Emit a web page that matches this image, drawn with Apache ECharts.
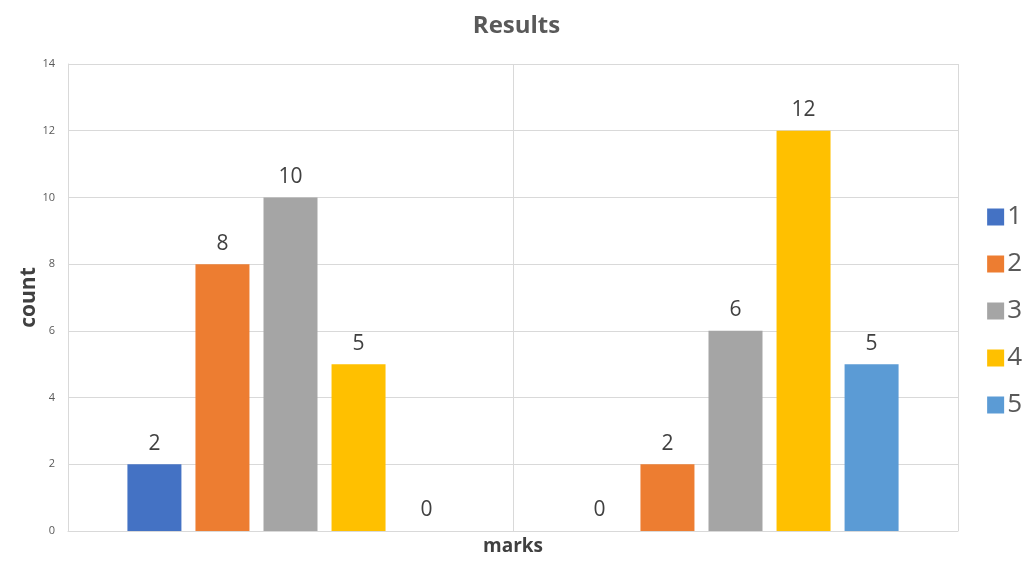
<!DOCTYPE html>
<html>
<head>
<meta charset="utf-8">
<script src="https://cdn.jsdelivr.net/npm/echarts@6/dist/echarts.min.js"></script>
<style>
  html, body { margin: 0; padding: 0; background: #fff; }
  #chart { width: 1033px; height: 561px; }
</style>
</head>
<body>
<div id="chart"></div>
<script>
// 两组分类（图中无标签）
const categories = ['', '']
// 各系列名称
const seriesNames = ['1', '2', '3', '4', '5']
// 各系列数值（左组, 右组）
const values1 = [2, 0]
const values2 = [8, 2]
const values3 = [10, 6]
const values4 = [5, 12]
const values5 = [0, 5]
const yTicks = [0, 2, 4, 6, 8, 10, 12, 14]

const colors = ['#4472C4', '#ED7D31', '#A5A5A5', '#FFC000', '#5B9BD5']
const allValues = [values1, values2, values3, values4, values5]

const chart = echarts.init(document.getElementById('chart'))

const option = {
  backgroundColor: '#fff',
  color: colors,
  textStyle: { fontFamily: '"Open Sans", "DejaVu Sans", sans-serif' },
  title: {
    text: 'Results',
    left: 'center',
    top: 9,
    textStyle: { fontSize: 24, fontWeight: 'bold', color: '#595959' }
  },
  legend: {
    orient: 'vertical',
    right: 6,
    top: 199,
    itemWidth: 17,
    itemHeight: 17,
    itemGap: 21,
    icon: 'rect',
    textStyle: { fontSize: 26, color: '#595959', padding: [0, 0, 0, -2] },
    data: seriesNames
  },
  grid: {
    left: 68,
    right: 75,
    top: 64,
    bottom: 30,
    outerBoundsMode: 'none'
  },
  xAxis: {
    type: 'category',
    data: categories,
    name: 'marks',
    nameLocation: 'middle',
    nameGap: 6,
    nameTextStyle: { fontSize: 19, fontWeight: 'bold', color: '#404040' },
    axisLine: { show: true, lineStyle: { color: '#d9d9d9', width: 1 } },
    axisTick: { show: false },
    axisLabel: { show: false },
    splitLine: { show: true, lineStyle: { color: '#d9d9d9', width: 1 } }
  },
  yAxis: {
    type: 'value',
    min: yTicks[0],
    max: yTicks[yTicks.length - 1],
    interval: 2,
    name: 'count',
    nameLocation: 'middle',
    nameGap: 28,
    nameMoveOverlap: false,
    nameTextStyle: { fontSize: 21, fontWeight: 'bold', color: '#404040' },
    axisLine: { show: true, lineStyle: { color: '#d9d9d9', width: 1 } },
    axisTick: { show: false },
    axisLabel: { fontSize: 11, color: '#595959', margin: 13 },
    splitLine: { show: true, lineStyle: { color: '#d9d9d9', width: 1 } }
  },
  series: seriesNames.map((name, i) => ({
    name: name,
    type: 'bar',
    data: allValues[i],
    barWidth: 54,
    barGap: '26%',
    itemStyle: { color: colors[i] },
    label: {
      show: true,
      position: 'top',
      distance: 10,
      fontSize: 21,
      color: '#404040'
    }
  }))
}

chart.setOption(option)
window.onresize = function () {
  chart.resize()
}
</script>
</body>
</html>
